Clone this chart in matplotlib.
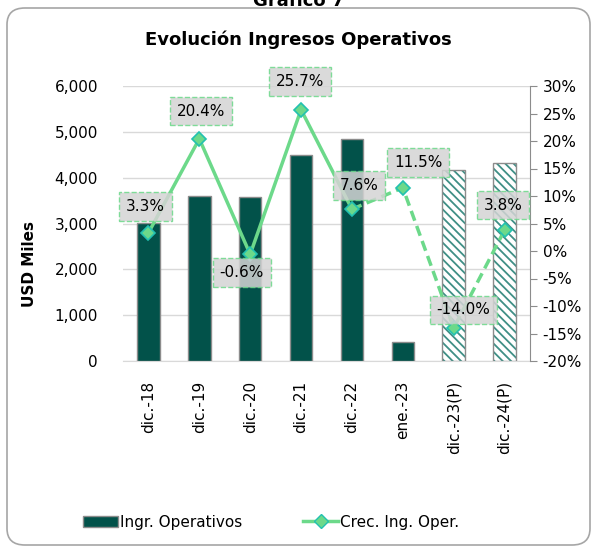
import numpy as np
import matplotlib
matplotlib.use('Agg')
import matplotlib.pyplot as plt
from matplotlib.patches import FancyBboxPatch, Patch
from matplotlib.lines import Line2D
from matplotlib.ticker import FuncFormatter

# datos
periodos = ['dic.-18', 'dic.-19', 'dic.-20', 'dic.-21', 'dic.-22', 'ene.-23', 'dic.-23(P)', 'dic.-24(P)']
ingresos = [3004, 3607, 3585, 4495, 4844, 421, 4168, 4327]
proyectado = [False, False, False, False, False, False, True, True]
crecimiento = [3.3, 20.4, -0.6, 25.7, 7.6, 11.5, -14.0, 3.8]
etiquetas = ['3.3%', '20.4%', '-0.6%', '25.7%', '7.6%', '11.5%', '-14.0%', '3.8%']

verde_osc = '#02524a'
verde_lin = '#6cd98a'
borde_gris = '#8c8c8c'

plt.rcParams['font.family'] = 'DejaVu Sans'
plt.rcParams['hatch.linewidth'] = 1.3

fig = plt.figure(figsize=(5.97, 5.49), dpi=100)

# marco redondeado
marco = FancyBboxPatch((7/597, 1 - 545/549), 583/597, 537/549,
                       boxstyle='round,pad=0,rounding_size=0.03',
                       transform=fig.transFigure, fc='white', ec='#a6a6a6', lw=1.2, zorder=-10)
fig.patches.append(marco)

fig.text(0.5, 0.998, 'Gráfico 7', ha='center', va='center', fontsize=13, fontweight='bold')
fig.text(0.5, 1 - 40/549, 'Evolución Ingresos Operativos', ha='center', va='center',
         fontsize=13, fontweight='bold')

ax = fig.add_axes([123/597, 1 - 361/549, (530 - 123)/597, (361 - 86)/549])
ax2 = ax.twinx()
ax.set_zorder(1)
ax2.set_zorder(2)
ax.patch.set_visible(False)
ax2.patch.set_visible(False)

x = np.arange(len(periodos))
ancho = 0.44

# barras reales y proyectadas
for i in range(len(periodos)):
    if not proyectado[i]:
        ax.bar(x[i], ingresos[i], width=ancho, color=verde_osc, edgecolor=borde_gris, lw=1, zorder=3)
    else:
        ax.bar(x[i], ingresos[i], width=ancho, color='white', edgecolor='#3f8f86',
               hatch='\\\\\\\\', lw=0, zorder=3)
        ax.bar(x[i], ingresos[i], width=ancho, fill=False, edgecolor=borde_gris, lw=1, zorder=4)

ax.set_ylim(0, 6000)
ax.set_xlim(-0.5, 7.5)
ax.set_yticks(np.arange(0, 6001, 1000))
ax.yaxis.set_major_formatter(FuncFormatter(lambda v, p: f'{int(v):,}'))
ax.grid(axis='y', color='#d9d9d9', lw=1, zorder=0)
ax.set_axisbelow(True)
ax.tick_params(axis='y', length=0, pad=18, labelsize=11)
ax.set_xticks(x)
ax.set_xticklabels(periodos, rotation=90, fontsize=11, va='top')
ax.tick_params(axis='x', length=0, pad=14)
for s in ['top', 'left', 'right']:
    ax.spines[s].set_visible(False)
ax.spines['bottom'].set_color('#d9d9d9')

fig.text(29/597, 1 - 264/549, 'USD Miles', rotation=90, ha='center', va='center',
         fontsize=11, fontweight='bold')

# linea de crecimiento
ax2.plot(x[:5], crecimiento[:5], color=verde_lin, lw=2.5, zorder=5)
ax2.plot(x[4:], crecimiento[4:], color=verde_lin, lw=2.5, ls=(0, (3, 1.6)), zorder=5)
ax2.plot(x, crecimiento, ls='none', marker='D', ms=7, mfc=verde_lin, mec='#22c1b0', mew=1.2, zorder=6)
ax2.set_ylim(-20, 30)
ax2.set_yticks(np.arange(-20, 31, 5))
ax2.yaxis.set_major_formatter(FuncFormatter(lambda v, p: f'{int(v)}%'))
ax2.tick_params(axis='y', length=5, color=borde_gris, labelsize=11, pad=4)
for s in ['top', 'left', 'bottom']:
    ax2.spines[s].set_visible(False)
ax2.spines['right'].set_color(borde_gris)

desplaz = [(-2, 19), (1, 20), (-6, -13), (-1, 20), (5, 17), (11, 18), (7, 13), (-1, 18)]
for i in range(len(x)):
    ax2.annotate(etiquetas[i], (x[i], crecimiento[i]), xytext=desplaz[i], textcoords='offset points',
                 ha='center', va='center', fontsize=11, zorder=7,
                 bbox=dict(boxstyle='square,pad=0.45', fc='#d4d4d4', ec=verde_lin, ls='--', lw=1, alpha=0.85))

# leyenda
h1 = Patch(facecolor=verde_osc, edgecolor=borde_gris)
h2 = Line2D([], [], color=verde_lin, lw=2.5, marker='D', ms=7, mfc=verde_lin, mec='#22c1b0')
fig.legend([h1, h2], ['Ingr. Operativos', 'Crec. Ing. Oper.'], loc='center',
           bbox_to_anchor=(271/597, 1 - 522/549), ncol=2, frameon=False, fontsize=11,
           handlelength=2.3, handletextpad=0.1, columnspacing=4)

fig.savefig('out.png', dpi=100)
